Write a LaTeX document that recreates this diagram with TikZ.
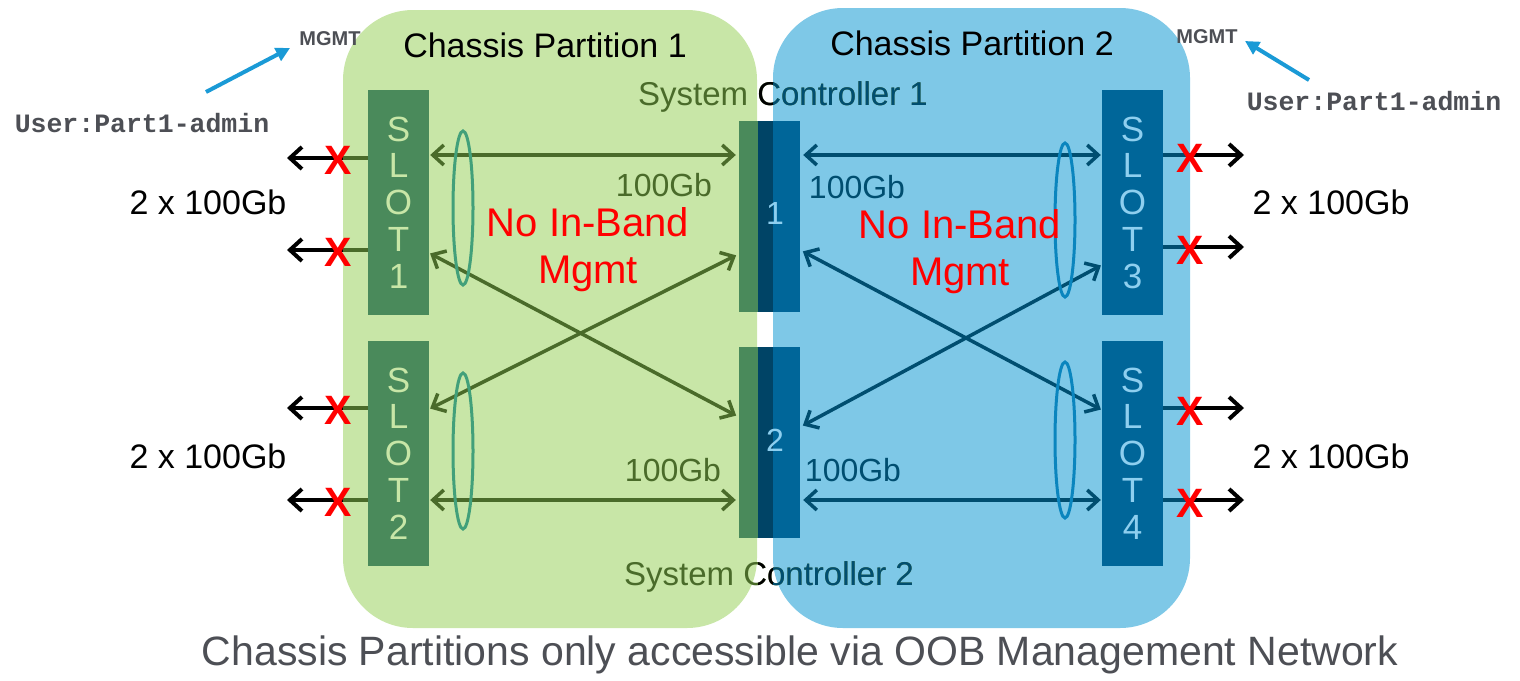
\documentclass[tikz,border=0pt]{standalone}
\usepackage{xcolor}
\usepackage{fontspec}
\setmainfont{Liberation Sans}
\newfontfamily\courierfont{Liberation Mono}
\usepackage{tikz}
\usetikzlibrary{arrows.meta,calc,positioning}

\definecolor{partgreen}{HTML}{C8E6A7}
\definecolor{partblue}{HTML}{7EC8E7}
\definecolor{slotgreen}{HTML}{4A8A5B}
\definecolor{slotblue}{HTML}{006699}
\definecolor{ctrldark}{HTML}{004466}
\definecolor{arrgreen}{HTML}{4A6B2A}
\definecolor{arrblue}{HTML}{004E70}
\definecolor{ringgreen}{HTML}{42A07A}
\definecolor{ringblue}{HTML}{0A85BE}
\definecolor{lightblue}{HTML}{8ECFEF}
\definecolor{mgmtblue}{HTML}{1A9AD6}
\definecolor{textgray}{HTML}{4D4F55}

\tikzstyle{part} = [rounded corners=70pt, inner sep=0pt]
\tikzstyle{slotbox} = [minimum width=61pt, minimum height=225pt, inner sep=0pt, align=center, font=\fontsize{35}{36.75}\selectfont]
\tikzstyle{ctrl} = [minimum height=191pt, inner sep=0pt]
\tikzstyle{link} = [line width=3.5pt, <->, shorten <=1pt, shorten >=3pt]
\tikzstyle{outarrow} = [line width=4pt, black, -{Straight Barb[length=12pt,width=22pt]}]
\tikzstyle{cross} = [text=red, inner sep=0pt, font=\fontsize{41}{41}\selectfont\bfseries]
\tikzstyle{ring} = [line width=3pt]
\tikzstyle{big} = [font=\fontsize{34}{40}\selectfont]
\tikzstyle{rate} = [font=\fontsize{32}{36}\selectfont, anchor=base]
\tikzstyle{noband} = [text=red, align=center, font=\fontsize{40}{47}\selectfont]
\tikzstyle{mgmt} = [text=textgray, font=\fontsize{20}{24}\selectfont\bfseries, anchor=base]
\tikzstyle{user} = [text=textgray, font=\fontsize{26.5}{30}\selectfont\courierfont\bfseries, anchor=base]
\tikzstyle{sctext} = [font=\fontsize{33}{38}\selectfont, anchor=base, inner sep=0pt]
\tikzstyle{mgmtarrow} = [line width=4pt, mgmtblue, -{Triangle[length=14pt,width=14pt]}]

\begin{document}
\begin{tikzpicture}[x=1pt, y=-1pt, >={Straight Barb[length=11pt,width=20pt]}]
\useasboundingbox (0,0) rectangle (1520,680);

% partitions
\node[part, fill=partgreen, minimum width=414pt, minimum height=618pt] (p1) at (550,319) {};
\node[part, fill=partblue, minimum width=417pt, minimum height=620pt] (p2) at (981.5,318) {};

\node[big, anchor=base] (t1) at (545,57) {Chassis Partition 1};
\node[big, anchor=base] (t2) at (972,55) {Chassis Partition 2};

% slots
\node[slotbox, fill=slotgreen, text=partgreen] (s1) at (398.5,202.5) {S\\L\\O\\T\\1};
\node[slotbox, fill=slotgreen, text=partgreen] (s2) at (398.5,453.5) {S\\L\\O\\T\\2};
\node[slotbox, fill=slotblue, text=lightblue] (s3) at (1132.5,202.5) {S\\L\\O\\T\\3};
\node[slotbox, fill=slotblue, text=lightblue] (s4) at (1132.5,453.5) {S\\L\\O\\T\\4};

% system controllers
\node[ctrl, fill=slotgreen, minimum width=19pt] (c1g) at (748.5,216.5) {};
\node[ctrl, fill=ctrldark, minimum width=15pt] (c1d) at (765.5,216.5) {};
\node[ctrl, fill=slotblue, minimum width=27pt] (c1b) at (786.5,216.5) {};
\node[ctrl, fill=slotgreen, minimum width=19pt] (c2g) at (748.5,442) {};
\node[ctrl, fill=ctrldark, minimum width=15pt] (c2d) at (765.5,442) {};
\node[ctrl, fill=slotblue, minimum width=27pt] (c2b) at (786.5,442) {};
\node[text=lightblue, font=\fontsize{32}{34}\selectfont] (n1) at (775,213) {1};
\node[text=lightblue, font=\fontsize{32}{34}\selectfont] (n2) at (775,440) {2};

\node[sctext, text=arrgreen] (sc1) at (783,105) {System Controller 1};
\node[sctext, text=arrgreen] (sc2) at (769,585) {System Controller 2};
\begin{scope}
\clip (758,60) rectangle (773,600);
\node[sctext, text=black] at (783,105) {System Controller 1};
\node[sctext, text=black] at (769,585) {System Controller 2};
\end{scope}
\begin{scope}
\clip (773,60) rectangle (1000,600);
\node[sctext, text=arrblue] at (783,105) {System Controller 1};
\node[sctext, text=arrblue] at (769,585) {System Controller 2};
\end{scope}

% links
\draw[link, arrgreen] (s1.east |- 0,155) -- (c1g.west |- 0,155);
\draw[link, arrgreen] (s1.east |- 0,253) -- (c2g.west |- 0,417);
\draw[link, arrgreen] (s2.east |- 0,409) -- (c1g.west |- 0,254);
\draw[link, arrgreen] (s2.east |- 0,500) -- (c2g.west |- 0,500);
\draw[link, arrblue] (s3.west |- 0,155) -- (c1b.east |- 0,155);
\draw[link, arrblue] (s4.west |- 0,410) -- (c1b.east |- 0,250);
\draw[link, arrblue] (s3.west |- 0,265) -- (c2b.east |- 0,427);
\draw[link, arrblue] (s4.west |- 0,500) -- (c2b.east |- 0,500);

\node[rate, text=arrgreen] (r1) at (664,196) {100Gb};
\node[rate, text=arrgreen] (r2) at (673,481) {100Gb};
\node[rate, text=arrblue] (r3) at (857,198) {100Gb};
\node[rate, text=arrblue] (r4) at (853,481) {100Gb};

\draw[ring, ringgreen] (463,208) ellipse [x radius=10, y radius=77];
\draw[ring, ringgreen] (463,451) ellipse [x radius=10, y radius=78];
\draw[ring, ringblue] (1065,220) ellipse [x radius=10, y radius=77];
\draw[ring, ringblue] (1065,440) ellipse [x radius=10, y radius=78];

\node[noband] (nb1) at (588,250) {No In-Band\\Mgmt};
\node[noband] (nb2) at (960,252) {No In-Band\\Mgmt};

% front ports
\foreach \y/\s/\n in {158/1/a, 250/1/b, 408/2/c, 500/2/d} {
  \coordinate (l\n) at (287,\y);
  \draw[line width=3.5pt, arrgreen] (s\s.west |- 0,\y) -- (p1.west |- 0,\y);
  \draw[outarrow] (p1.west |- 0,\y) -- (l\n);
  \node[cross] (x\n) at ($(p1.west |- 0,\y)+(-5,2)$) {X};
}
\foreach \y/\s/\n in {155/3/e, 247/3/f, 408/4/g, 500/4/h} {
  \coordinate (r\n) at (1244,\y);
  \draw[line width=3.5pt, arrblue] (s\s.east |- 0,\y) -- (p2.east |- 0,\y);
  \draw[outarrow] (p2.east |- 0,\y) -- (r\n);
  \node[cross] (x\n) at ($(p2.east |- 0,\y)+(0,3)$) {X};
}

\node[big, anchor=base] (g1) at (208,214) {2 x 100Gb};
\node[big, anchor=base] (g2) at (208,468) {2 x 100Gb};
\node[big, anchor=base] (g3) at (1331,214) {2 x 100Gb};
\node[big, anchor=base] (g4) at (1331,468) {2 x 100Gb};

% management
\node[mgmt] (m1) at (330,45) {MGMT};
\node[mgmt] (m2) at (1207,43) {MGMT};
\node[user] (u1) at (142,132) {User:Part1-admin};
\node[user] (u2) at (1374,110) {User:Part1-admin};
\coordinate (a1) at (206,92);
\coordinate (b1) at (290,48);
\coordinate (a2) at (1309,80);
\coordinate (b2) at (1245,41);
\draw[mgmtarrow] (a1) -- (b1);
\draw[mgmtarrow] (a2) -- (b2);

\node[text=textgray, font=\fontsize{41}{48}\selectfont, anchor=base] (cap) at (800,665) {Chassis Partitions only accessible via OOB Management Network};
\end{tikzpicture}
\end{document}
